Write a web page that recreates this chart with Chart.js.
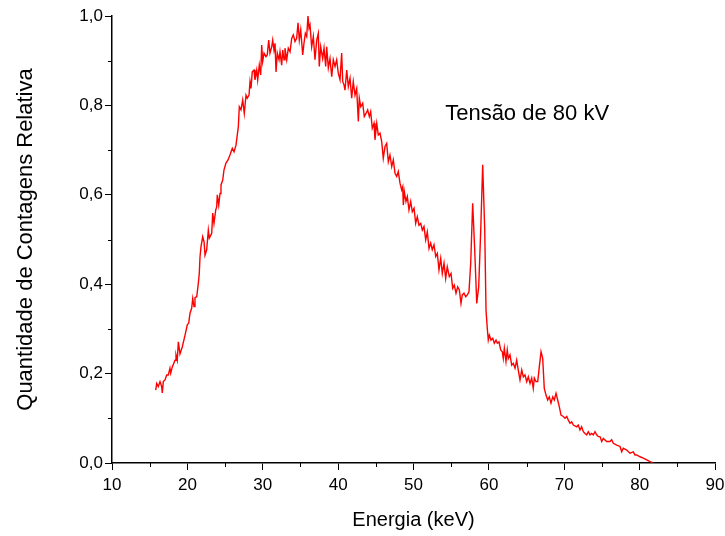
<!DOCTYPE html>
<html>
<head>
<meta charset="utf-8">
<script src="https://cdn.jsdelivr.net/npm/chart.js@4/dist/chart.umd.min.js"></script>
<style>
  html, body { margin: 0; padding: 0; background: #fff; }
  #grafico { display: block; }
</style>
</head>
<body>
<canvas id="grafico" width="725" height="536"></canvas>
<script>
// espectro (energia em keV, contagem relativa)
const energia = [15.80,15.93,16.14,16.37,16.59,16.67,16.81,17.03,17.26,17.47,
17.69,17.79,18.00,18.36,18.49,18.66,18.80,19.02,19.33,19.69,
19.99,20.18,20.35,20.57,20.71,20.88,21.01,21.24,21.45,21.58,
21.68,21.81,22.03,22.21,22.34,22.56,22.78,22.91,23.23,23.36,
23.53,23.76,23.89,23.97,24.16,24.33,24.46,24.69,24.86,25.12,
25.39,25.65,25.96,26.19,26.45,26.76,26.89,27.11,27.34,27.55,
27.78,27.95,28.18,28.31,28.44,28.61,28.84,28.97,29.20,29.33,
29.54,29.73,29.86,29.99,30.17,30.43,30.60,30.79,30.96,31.19,
31.32,31.49,31.63,31.76,31.93,32.16,32.29,32.51,32.65,32.82,
32.95,33.18,33.39,33.62,33.84,34.05,34.28,34.50,34.68,34.85,
35.04,35.30,35.47,35.65,35.83,36.00,36.14,36.27,36.49,36.71,
36.93,37.16,37.37,37.50,37.69,37.95,38.13,38.35,38.48,38.70,
38.92,39.15,39.36,39.59,39.81,40.02,40.25,40.47,40.61,40.78,
40.91,41.14,41.35,41.58,41.80,42.01,42.24,42.46,42.68,42.81,
43.00,43.26,43.47,43.70,43.92,44.14,44.32,44.53,44.76,44.89,
45.12,45.33,45.56,45.78,45.99,46.22,46.44,46.66,46.88,47.11,
47.32,47.55,47.77,47.98,48.21,48.43,48.57,48.65,48.78,49.00,
49.18,49.40,49.63,49.84,50.07,50.29,50.50,50.73,50.96,51.17,
51.39,51.62,51.83,52.06,52.28,52.49,52.72,52.95,53.16,53.38,
53.61,53.82,54.05,54.27,54.48,54.75,54.98,55.20,55.41,55.64,
55.86,56.08,56.30,56.47,56.70,56.93,57.14,57.36,57.59,57.85,
58.12,58.39,58.65,58.92,59.18,59.45,59.62,59.79,59.92,60.06,
60.28,60.51,60.72,60.95,61.12,61.34,61.57,61.78,61.91,62.05,
62.27,62.44,62.58,62.80,63.03,63.24,63.47,63.69,63.90,64.13,
64.36,64.57,64.79,65.02,65.23,65.46,65.68,65.89,66.03,66.25,
66.48,66.69,66.92,67.14,67.35,67.58,67.80,68.02,68.24,68.47,
68.68,68.91,69.13,69.34,69.57,69.87,70.10,70.33,70.54,70.76,
70.99,71.20,71.65,71.86,72.09,72.31,72.53,72.75,72.98,73.19,
73.42,73.64,73.85,74.08,74.30,74.52,74.74,74.97,75.18,75.63,
76.07,76.29,76.51,76.96,77.40,77.62,77.83,78.28,78.72,79.16,
79.39,79.61,80.05,80.49,80.94,81.38,81.73];

const contagens = [0.163,0.178,0.171,0.182,0.171,0.157,0.182,0.186,0.197,0.197,
0.212,0.201,0.215,0.230,0.242,0.230,0.271,0.244,0.260,0.286,
0.309,0.313,0.335,0.346,0.368,0.350,0.370,0.372,0.402,0.424,
0.462,0.484,0.506,0.495,0.465,0.477,0.521,0.503,0.514,0.559,
0.536,0.566,0.573,0.600,0.577,0.603,0.622,0.633,0.656,0.671,
0.678,0.689,0.704,0.696,0.711,0.752,0.797,0.790,0.812,0.782,
0.823,0.816,0.823,0.853,0.838,0.875,0.879,0.857,0.879,0.857,
0.890,0.868,0.935,0.898,0.917,0.909,0.913,0.946,0.917,0.931,
0.946,0.924,0.939,0.875,0.917,0.902,0.920,0.890,0.924,0.902,
0.928,0.902,0.928,0.920,0.950,0.958,0.943,0.950,0.985,0.946,
0.969,0.913,0.939,0.961,0.954,1.000,0.973,0.980,0.931,0.954,
0.902,0.946,0.961,0.887,0.931,0.905,0.928,0.887,0.931,0.884,
0.905,0.864,0.902,0.887,0.902,0.872,0.857,0.917,0.853,0.846,
0.834,0.879,0.842,0.861,0.816,0.853,0.823,0.838,0.764,0.816,
0.797,0.805,0.775,0.782,0.790,0.775,0.786,0.749,0.760,0.723,
0.760,0.734,0.738,0.719,0.682,0.708,0.715,0.674,0.689,0.663,
0.678,0.648,0.641,0.652,0.626,0.611,0.618,0.577,0.607,0.585,
0.596,0.566,0.585,0.562,0.570,0.536,0.551,0.532,0.536,0.521,
0.529,0.499,0.517,0.480,0.492,0.477,0.488,0.462,0.469,0.432,
0.458,0.424,0.447,0.413,0.439,0.417,0.424,0.391,0.398,0.380,
0.394,0.387,0.357,0.376,0.380,0.372,0.376,0.383,0.447,0.581,
0.477,0.357,0.394,0.521,0.667,0.521,0.342,0.301,0.275,0.286,
0.275,0.279,0.268,0.275,0.268,0.271,0.253,0.249,0.234,0.257,
0.227,0.253,0.234,0.242,0.219,0.223,0.212,0.230,0.208,0.186,
0.208,0.193,0.197,0.182,0.193,0.178,0.190,0.167,0.190,0.182,
0.182,0.215,0.249,0.234,0.167,0.152,0.141,0.148,0.134,0.148,
0.141,0.156,0.141,0.126,0.107,0.104,0.100,0.104,0.096,0.089,
0.092,0.085,0.081,0.085,0.074,0.081,0.070,0.066,0.063,0.070,
0.063,0.066,0.063,0.070,0.063,0.059,0.059,0.048,0.055,0.048,
0.048,0.052,0.044,0.040,0.037,0.025,0.033,0.029,0.022,0.025,
0.018,0.018,0.014,0.011,0.007,0.003,0.001];

const tituloX = 'Energia (keV)';
const tituloY = 'Quantidade de Contagens Relativa';
const legenda = 'Tensão de 80 kV';

const fonte = '"Liberation Sans", Arial, sans-serif';
const vermelho = 'rgba(255, 0, 0, 1)';

const pontos = [];
for (let i = 0; i < energia.length; i++) {
    pontos.push({x: energia[i], y: contagens[i]});
}

function ehMaiorX(v) { return Math.round(v) % 10 === 0; }
function ehMaiorY(v) { return Math.round(v * 10) % 2 === 0; }

// tracinhos menores (o Chart.js so tem um comprimento de tick)
const ticksMenores = {
    id: 'ticksMenores',
    afterDraw(chart) {
        const ctx = chart.ctx;
        const sx = chart.scales.x, sy = chart.scales.y;
        ctx.save();
        ctx.strokeStyle = '#000';
        ctx.lineWidth = 1;
        ctx.beginPath();
        sx.ticks.forEach(t => {
            if (!ehMaiorX(t.value)) {
                const px = Math.round(sx.getPixelForValue(t.value)) + 0.5;
                ctx.moveTo(px, sy.bottom);
                ctx.lineTo(px, sy.bottom + 4);
            }
        });
        sy.ticks.forEach(t => {
            if (!ehMaiorY(t.value)) {
                const py = Math.round(sy.getPixelForValue(t.value)) + 0.5;
                ctx.moveTo(sx.left, py);
                ctx.lineTo(sx.left - 4, py);
            }
        });
        ctx.stroke();
        // texto da tensao, posto em coordenadas de dados
        ctx.fillStyle = '#000';
        ctx.font = '22px ' + fonte;
        ctx.textBaseline = 'middle';
        ctx.textAlign = 'left';
        ctx.fillText(legenda, sx.getPixelForValue(54.2), sy.getPixelForValue(0.78));
        ctx.restore();
    }
};

const ctx = document.getElementById('grafico').getContext('2d');
const chart = new Chart(ctx, {
    type: 'line',
    data: {
        datasets: [{
            label: legenda,
            data: pontos,
            borderColor: vermelho,
            borderWidth: 1.4,
            pointRadius: 0,
            tension: 0,
            fill: false
        }]
    },
    options: {
        responsive: false,
        animation: false,
        devicePixelRatio: 1,
        layout: { padding: { left: 0, right: 10, top: 16, bottom: 0 } },
        plugins: {
            legend: { display: false },
            tooltip: { enabled: false }
        },
        scales: {
            x: {
                type: 'linear',
                min: 10,
                max: 90,
                afterFit: function(scale) {
                    scale.height = 73;
                    scale.paddingRight = 0;
                },
                border: { display: true, color: '#000', width: 1.5 },
                grid: {
                    drawOnChartArea: false,
                    drawTicks: true,
                    tickLength: 7,
                    tickWidth: 1,
                    tickColor: function(c) { return (c.tick && ehMaiorX(c.tick.value)) ? '#000' : 'rgba(0,0,0,0)'; }
                },
                ticks: {
                    stepSize: 5,
                    autoSkip: false,
                    maxRotation: 0,
                    padding: 5,
                    color: '#000',
                    font: { family: fonte, size: 17 },
                    callback: function(value) { return ehMaiorX(value) ? String(Math.round(value)) : ''; }
                },
                title: {
                    display: true,
                    text: tituloX,
                    color: '#000',
                    font: { family: fonte, size: 20 },
                    padding: { top: 0, bottom: 4 }
                }
            },
            y: {
                min: 0,
                max: 1,
                afterFit: function(scale) { scale.width = 112; },
                border: { display: true, color: '#000', width: 1.5 },
                grid: {
                    drawOnChartArea: false,
                    drawTicks: true,
                    tickLength: 7,
                    tickWidth: 1,
                    tickColor: function(c) { return (c.tick && ehMaiorY(c.tick.value)) ? '#000' : 'rgba(0,0,0,0)'; }
                },
                ticks: {
                    stepSize: 0.1,
                    autoSkip: false,
                    padding: 2,
                    color: '#000',
                    font: { family: fonte, size: 17 },
                    callback: function(value) { return ehMaiorY(value) ? value.toFixed(1).replace('.', ',') : ''; }
                },
                title: {
                    display: true,
                    text: tituloY,
                    color: '#000',
                    font: { family: fonte, size: 22 },
                    padding: { top: 13, bottom: 0 }
                }
            }
        }
    },
    plugins: [ticksMenores]
});
</script>
</body>
</html>
